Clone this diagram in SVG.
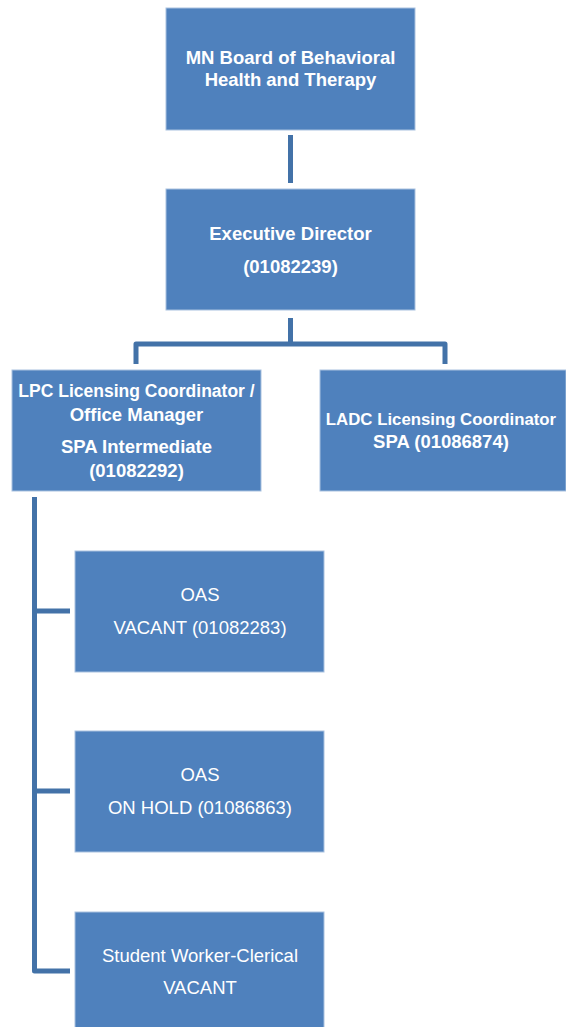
<svg xmlns="http://www.w3.org/2000/svg" width="566" height="1027" viewBox="0 0 566 1027">
<style>
.box{fill:#4F81BD;stroke:#A9C1DF;stroke-width:1}
.b{font-family:"Liberation Sans",Arial,sans-serif;font-weight:bold;font-size:18.5px;fill:#fff;text-anchor:middle}
.r{font-family:"Liberation Sans",Arial,sans-serif;font-size:18.5px;fill:#fff;text-anchor:middle}
.c{fill:none;stroke:#4372A8;stroke-width:5;stroke-linejoin:round}
</style>
<rect width="566" height="1027" fill="#fff"/>
<g id="connectors">
<line class="c" x1="290.5" y1="135" x2="290.5" y2="183"/>
<line class="c" x1="290.5" y1="318" x2="290.5" y2="344"/>
<polyline class="c" points="136,364 136,344 445,344 445,364"/>
<polyline class="c" points="34.5,497 34.5,971 70,971"/>
<line class="c" x1="34.5" y1="611" x2="70" y2="611"/>
<line class="c" x1="34.5" y1="791" x2="70" y2="791"/>
</g>
<g id="board">
<rect class="box" x="166" y="8" width="249" height="122"/>
<text class="b" x="290.5" y="64">MN Board of Behavioral</text>
<text class="b" x="290.5" y="86">Health and Therapy</text>
</g>
<g id="exec">
<rect class="box" x="166" y="189" width="249" height="121"/>
<text class="b" x="290.5" y="240">Executive Director</text>
<text class="b" x="290.5" y="273">(01082239)</text>
</g>
<g id="lpc">
<rect class="box" x="12" y="370" width="249" height="121"/>
<text class="b" x="136.5" y="397" style="font-size:17.5px">LPC Licensing Coordinator /</text>
<text class="b" x="136.5" y="421">Office Manager</text>
<text class="b" x="136.5" y="453">SPA Intermediate</text>
<text class="b" x="136.5" y="477">(01082292)</text>
</g>
<g id="ladc">
<rect class="box" x="320" y="370" width="246" height="121"/>
<text class="b" x="441" y="425" style="font-size:16.8px">LADC Licensing Coordinator</text>
<text class="b" x="441" y="448">SPA (01086874)</text>
</g>
<g id="oas1">
<rect class="box" x="75" y="551" width="249" height="121"/>
<text class="r" x="200" y="601">OAS</text>
<text class="r" x="200" y="634">VACANT (01082283)</text>
</g>
<g id="oas2">
<rect class="box" x="75" y="731" width="249" height="121"/>
<text class="r" x="200" y="781">OAS</text>
<text class="r" x="200" y="814">ON HOLD (01086863)</text>
</g>
<g id="student">
<rect class="box" x="75" y="912" width="249" height="121"/>
<text class="r" x="200" y="962">Student Worker-Clerical</text>
<text class="r" x="200" y="994">VACANT</text>
</g>
</svg>
